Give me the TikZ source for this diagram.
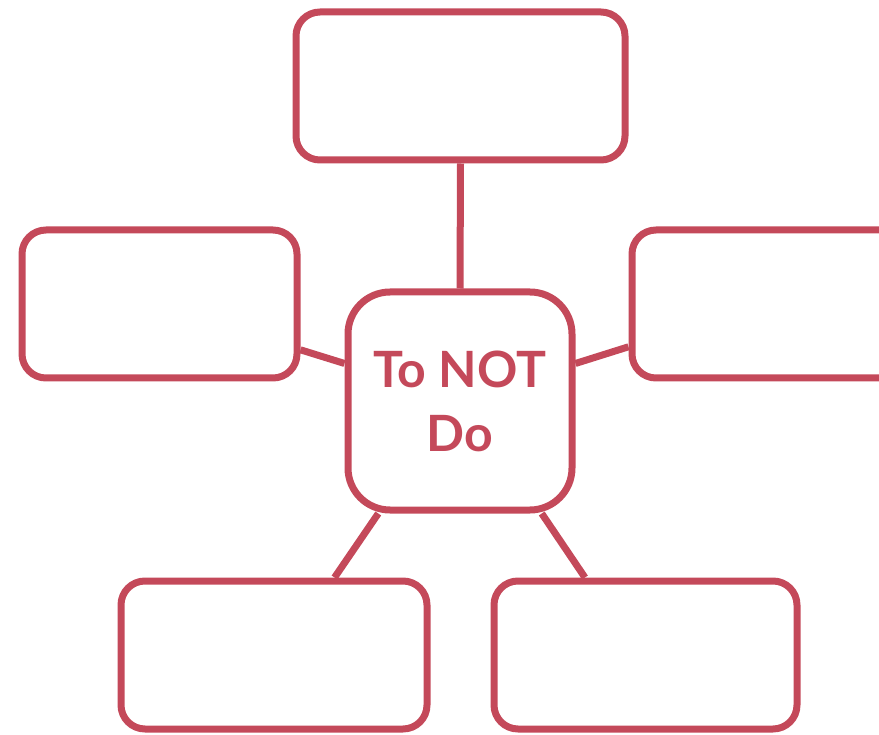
\documentclass[tikz,border=0pt]{standalone}
\usepackage{fontspec}
\setmainfont{Lato}
\definecolor{rose}{HTML}{C4495A}
\begin{document}
\begin{tikzpicture}[x=1pt,y=-1pt,
  box/.style={draw=rose,line width=7pt,rounded corners=24pt,inner sep=0pt},
  link/.style={draw=rose,line width=7pt}]
\useasboundingbox (0,0) rectangle (879,735);
\clip (0,0) rectangle (879,735);
\node[box,minimum width=329pt,minimum height=148pt] (top) at (460.5,86) {};
\node[box,minimum width=275pt,minimum height=148pt] (l) at (159.5,304) {};
\node[box,minimum width=273pt,minimum height=148pt] (r) at (768.5,304) {};
\node[box,minimum width=306pt,minimum height=148pt] (bl) at (274,655) {};
\node[box,minimum width=303pt,minimum height=148pt] (br) at (645.5,655) {};
\node[box,rounded corners=42pt,minimum width=224pt,minimum height=218pt,
  text=rose,font=\bfseries\fontsize{50}{64}\selectfont,align=center] (c) at (460,401) {To NOT\\Do};
\draw[link] (top.south) -- (c.north);
\draw[link] (l.-18.5) -- (c.162);
\draw[link] (r.197) -- (c.18);
\draw[link] (bl.52) -- (c.234);
\draw[link] (br.128) -- (c.-54);
\end{tikzpicture}
\end{document}
